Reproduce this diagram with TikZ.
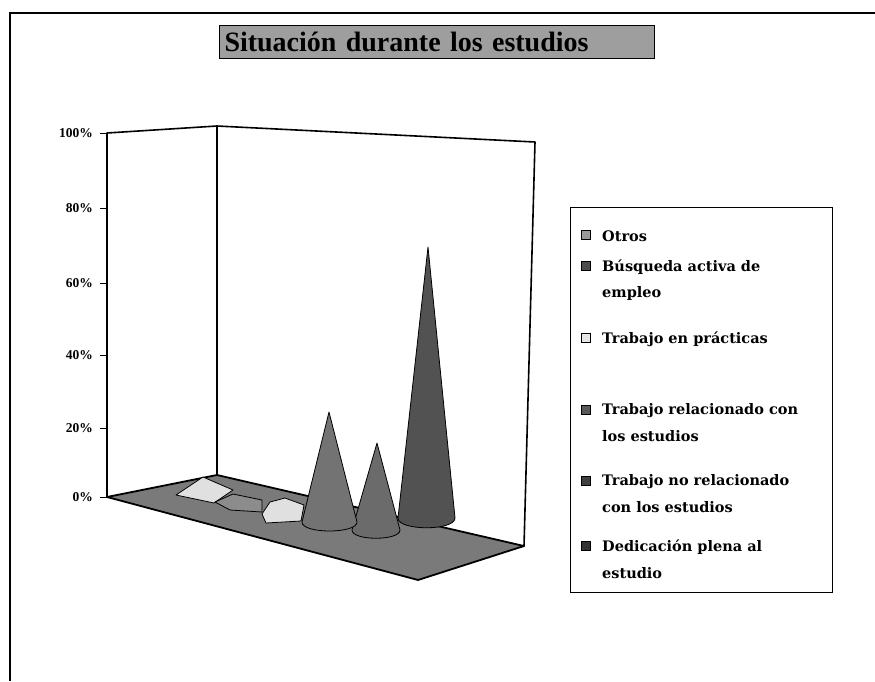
\documentclass[tikz,border=0pt]{standalone}
\usepackage{fontspec}
\setmainfont{Liberation Serif}
\newfontfamily\legfont{DejaVu Serif}
\usetikzlibrary{calc}
\tikzset{
  frameline/.style={line width=2pt, black},
  wall/.style={line width=1.6pt, black, line cap=round, line join=round},
  tickline/.style={line width=1pt, black},
  axlabel/.style={anchor=east, font=\bfseries\fontsize{13.5}{15}\selectfont, inner sep=0pt},
  legtext/.style={anchor=west, font=\legfont\bfseries\fontsize{14.5}{16}\selectfont, inner sep=0pt},
  legicon/.style={draw=black, line width=0.6pt, minimum size=9pt, inner sep=0pt},
  titlebox/.style={draw=black, line width=1pt, fill=black!38, anchor=north west,
     minimum width=435pt, minimum height=33pt, text width=425pt, inner sep=5pt, align=left,
     font=\bfseries\fontsize{28}{30}\selectfont},
  conefill/.style={draw=black, line width=0.8pt, line join=round},
}
\begin{document}
\begin{tikzpicture}[x=1pt,y=-1pt]
\useasboundingbox (0,0) rectangle (875,681);
\fill[white] (0,0) rectangle (875,681);
% outer frame
\coordinate (fbl) at (10,681);
\coordinate (ftl) at (10,13);
\coordinate (ftr) at (875,13);
\draw[frameline] (fbl) -- (ftl) -- (ftr);
% title
\node[titlebox] (title) at (219,25) {Situación durante los estudios};
% chart corners
\coordinate (lt) at (107,133);
\coordinate (lb) at (107,497);
\coordinate (bt) at (217,126);
\coordinate (bb) at (217,475);
\coordinate (rt) at (535,142);
\coordinate (rb) at (524,546);
\coordinate (fr) at (418,580);
% floor
\draw[fill=black!52, line width=1.8pt, line join=round] (lb) -- (bb) -- (rb) -- (fr) -- cycle;
% walls
\draw[wall] (lb) -- (lt) -- (bt) -- (rt) -- (rb);
\draw[wall] (bt) -- (bb);
% ticks and labels
\foreach \v/\y in {0/497,20/428,40/355,60/283,80/208,100/133}{
  \coordinate (tk\v) at (100,\y);
  \coordinate (ta\v) at (107,\y);
  \draw[tickline] (tk\v) -- (ta\v);
  \node[axlabel] (lab\v) at (93,\y) {\v\%};
}
% low tents
\coordinate (t1a) at (176,495);
\coordinate (t1b) at (203,477);
\coordinate (t1c) at (233,490);
\coordinate (t1d) at (214,503);
\draw[conefill, fill=black!12] (t1a) -- (t1b) -- (t1c) -- (t1d) -- cycle;
\coordinate (t2a) at (215,502);
\coordinate (t2b) at (233,494);
\coordinate (t2c) at (262,500);
\coordinate (t2d) at (262,512);
\coordinate (t2e) at (230,510);
\draw[conefill, fill=black!45] (t2a) -- (t2b) -- (t2c) -- (t2d) -- (t2e) -- cycle;
\coordinate (t3a) at (262,514);
\coordinate (t3b) at (270,502);
\coordinate (t3c) at (285,498);
\coordinate (t3d) at (304,505);
\coordinate (t3e) at (301,521);
\coordinate (t3f) at (266,523);
\draw[conefill, fill=black!12] (t3a) -- (t3b) -- (t3c) -- (t3d) -- (t3e) -- (t3f) -- cycle;
% cones
\coordinate (c3apex) at (428,247);
\coordinate (c3l) at (398,518);
\coordinate (c3r) at (455,518);
\draw[conefill, fill=black!68] (c3l) -- (c3apex) -- (c3r) .. controls (455,531) and (398,531) .. (c3l) -- cycle;
\coordinate (c2apex) at (377,443);
\coordinate (c2l) at (352,530);
\coordinate (c2r) at (400,530);
\draw[conefill, fill=black!58] (c2l) -- (c2apex) -- (c2r) .. controls (400,541) and (352,541) .. (c2l) -- cycle;
\coordinate (c1apex) at (329,412);
\coordinate (c1l) at (302,522);
\coordinate (c1r) at (357,522);
\draw[conefill, fill=black!55] (c1l) -- (c1apex) -- (c1r) .. controls (357,534) and (302,534) .. (c1l) -- cycle;
% legend
\node[draw=black, line width=0.8pt, minimum width=262pt, minimum height=385pt, anchor=north west, inner sep=0pt] (legend) at (570,207) {};
\node[legicon, fill=black!40] (i1) at (586,235) {};
\node[legtext] (l1) at (602,236) {Otros};
\node[legicon, fill=black!70] (i2) at (586,266) {};
\node[legtext] (l2a) at (602,267) {Búsqueda activa de};
\node[legtext] (l2b) at (602,293) {empleo};
\node[legicon, fill=black!10] (i3) at (586,338) {};
\node[legtext] (l3) at (602,339) {Trabajo en prácticas};
\node[legicon, fill=black!65] (i4) at (586,410) {};
\node[legtext] (l4a) at (602,411) {Trabajo relacionado con};
\node[legtext] (l4b) at (602,436) {los estudios};
\node[legicon, fill=black!75] (i5) at (586,481) {};
\node[legtext] (l5a) at (602,482) {Trabajo no relacionado};
\node[legtext] (l5b) at (602,507) {con los estudios};
\node[legicon, fill=black!80] (i6) at (586,546) {};
\node[legtext] (l6a) at (602,547) {Dedicación plena al};
\node[legtext] (l6b) at (602,573) {estudio};
\end{tikzpicture}
\end{document}
